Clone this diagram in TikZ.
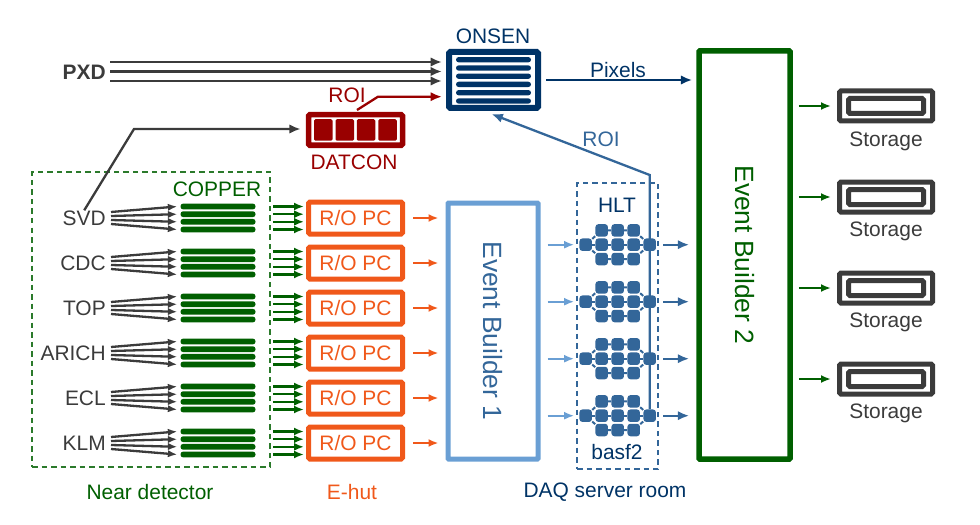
\documentclass[tikz,border=0pt]{standalone}
\usepackage{fontspec}
\setmainfont{Liberation Sans}
\usepackage{tikz}
\usetikzlibrary{arrows.meta,positioning,calc}
\usepackage{xcolor}
\definecolor{cgray}{HTML}{3B3B3B}
\definecolor{cgreen}{HTML}{005F00}
\definecolor{cdash}{HTML}{2B7A2B}
\definecolor{corange}{HTML}{F0581A}
\definecolor{clight}{HTML}{6A9FD4}
\definecolor{cblue}{HTML}{336699}
\definecolor{cnavy}{HTML}{003366}
\definecolor{cred}{HTML}{990000}
\newcommand{\px}{0.75pt}

\begin{document}
\begin{tikzpicture}[
  x=0.75pt, y=-0.75pt,
  font=\fontsize{15.7}{18}\selectfont,
  lab/.style={inner sep=0pt},
  bigbox/.style={draw, rounded corners=0.5pt, line width=5*\px, rotate=-90, inner sep=0pt, font=\fontsize{19.8}{22}\selectfont},
  bar/.style={fill, rounded corners=2pt, inner sep=0pt, minimum width=75*\px, minimum height=5.8*\px},
  ropc/.style={draw=corange, text=corange, rounded corners=1pt, line width=5*\px, inner sep=0pt, minimum width=94*\px, minimum height=32*\px},
  cell/.style={fill=cblue, rounded corners=2.2pt, inner sep=0pt, minimum size=12.5*\px},
  zone/.style={draw, dashed, dash pattern=on 5.5*\px off 4*\px, line width=1.7*\px},
  arr/.style={-{Latex[length=8.5pt,width=7pt]}, line width=2.3*\px},
  fan/.style={-{Latex[length=7pt,width=5.5pt]}, line width=2.3*\px, cgray},
  small/.style={-{Latex[length=7.5pt,width=6pt]}, line width=2.3*\px},
  store/.style={draw=cgray, rounded corners=1pt, line width=5*\px, inner sep=0pt}
]
\useasboundingbox (0,0) rectangle (980,524);

% zones
\node[zone, draw=cdash, minimum width=238*\px, minimum height=295*\px, inner sep=0pt] (near) at (151,319.5) {};
\node[zone, draw=cblue, minimum width=81*\px, minimum height=286*\px, inner sep=0pt] (room) at (617.5,326) {};
\node[lab, text=cgreen] (nearlab) at (150,492) {Near detector};
\node[lab, text=corange] (ehut) at (352,492) {E-hut};
\node[lab, text=cnavy] (daq) at (605,492) {DAQ server room};
\node[lab, text=cgreen] (copper) at (217,189) {COPPER};
\node[lab, text=cnavy] (hlt) at (617,205) {HLT};
\node[lab, text=cnavy] (basf) at (617,452) {basf2};

% event builders
\node[bigbox, draw=clight, text=cblue, minimum width=256*\px, minimum height=90*\px] (eb1) at (493,331) {Event Builder 1};
\node[bigbox, draw=cgreen, text=cgreen, line width=5.5*\px, minimum width=408*\px, minimum height=91*\px] (eb2) at (744.5,255) {Event Builder 2};

% detector rows
\foreach \lab [count=\i] in {SVD,CDC,TOP,ARICH,ECL,KLM} {
  \pgfmathsetmacro\ry{218+45*(\i-1)}
  \node[lab, anchor=east, text=cgray] (det\i) at (106,\ry) {\lab};
  \node[ropc] (ro\i) at (355.5,\ry) {R/O PC};
  \foreach \j/\dy/\sy in {1/-11.5/-6,2/-3.8/-2,3/3.8/2,4/11.5/6} {
    \node[bar, cgreen] (cop\i\j) at (218,\ry+\dy) {};
    \draw[fan] ([shift={(5,\sy)}]det\i.east) -- ([xshift=-3*\px]cop\i\j.west);
    \draw[small, cgreen] ([xshift=17*\px]cop\i\j.east) -- ([xshift=-2*\px]cop\i\j.east -| ro\i.west);
  }
  \draw[small, corange] ([xshift=8*\px]ro\i.east) -- ([xshift=-7*\px]ro\i.east -| eb1.south);
}

% HLT clusters
\foreach \y [count=\k] in {244.7,301.7,358.7,415.7} {
  \node[cell] (l\k) at (585.7,\y) {};
  \node[cell] (r\k) at (649.7,\y) {};
  \foreach \r/\dy in {1/-14.3,2/0,3/14.3} {
    \foreach \c/\cx in {1/601.7,2/617.7,3/633.7} {
      \node[cell] (n\k\r\c) at (\cx,\y+\dy) {};
    }
    \draw[cblue, line width=2*\px] (l\k) -- (n\k\r1) -- (n\k\r2) -- (n\k\r3) -- (r\k);
  }
  \draw[small, clight] ([xshift=7*\px]l\k.west -| eb1.north) -- ([xshift=-5*\px]l\k.west);
  \draw[arr, cblue] ([xshift=7*\px]r\k.east) -- ([xshift=-7*\px]r\k.east -| eb2.south);
}

% ONSEN
\node[draw=cnavy, fill=white, rounded corners=1pt, line width=6*\px, inner sep=0pt, minimum width=89*\px, minimum height=56*\px] (onsen) at (493.5,80) {};
\foreach \j/\y in {1/59.7,2/68,3/76.2,4/84.4,5/92.7,6/101} {
  \node[bar, cnavy, minimum height=5.3*\px] (on\j) at (493.5,\y) {};
}
\node[lab, text=cnavy] (onsenlab) at (493,36) {ONSEN};
\draw[arr, cnavy] ([xshift=5*\px]onsen.east) -- ([xshift=-4*\px]onsen.east -| eb2.south);

% PXD
\node[lab, anchor=east, text=cgray, font=\fontsize{15.7}{18}\selectfont\bfseries] (pxd) at (106,72) {PXD};
\foreach \dy in {-10,-0.5,9} {
  \draw[arr, cgray] ([shift={(4,\dy)}]pxd.east) -- ([shift={(-4,\dy)}]pxd.east -| onsen.west);
}

% DATCON
\node[draw=cred, fill=white, rounded corners=1pt, line width=5.5*\px, inner sep=0pt, minimum width=94*\px, minimum height=30.5*\px] (datcon) at (355.5,130) {};
\foreach \j/\x in {1/323.3,2/344.8,3/366,4/387.5} {
  \node[fill=cred, rounded corners=1pt, inner sep=0pt, minimum width=18.5*\px, minimum height=21.5*\px] (dc\j) at (\x,130) {};
}
\node[lab, text=cred] (datconlab) at (354,162) {DATCON};
\node[lab, text=cred] (roired) at (347,95) {ROI};
\coordinate (redbend) at (378,96.7);
\draw[arr, cred] ([shift={(1.5,-2)}]datcon.north) -- (redbend) -- ([xshift=-4*\px]redbend -| onsen.west);

% SVD to DATCON
\coordinate (svdbend) at (134,129);
\draw[arr, cgray] (det1.north) -- (svdbend) -- ([xshift=-5*\px]svdbend -| datcon.west);

% ROI back to ONSEN
\coordinate (roibend) at (649.7,175);
\draw[arr, cblue] (r4) -- (roibend) -- ([shift={(-2,3)}]onsen.south);
\node[lab, text=cblue] (roiblue) at (601,139) {ROI};
\node[lab, text=cnavy] (pixels) at (618,70) {Pixels};

% storage
\foreach \y/\ly [count=\k] in {106/141,197/231,288/322,379/413} {
  \node[store, minimum width=93*\px, minimum height=30*\px] (st\k) at (886,\y) {};
  \node[store, minimum width=75*\px, minimum height=15*\px] (sti\k) at (886,\y) {};
  \node[lab, text=cgray] (stlab\k) at (886,\ly) {Storage};
  \draw[small, cgreen] ([xshift=6*\px]st\k.west -| eb2.north) -- ([xshift=-6*\px]st\k.west);
}
\end{tikzpicture}
\end{document}
